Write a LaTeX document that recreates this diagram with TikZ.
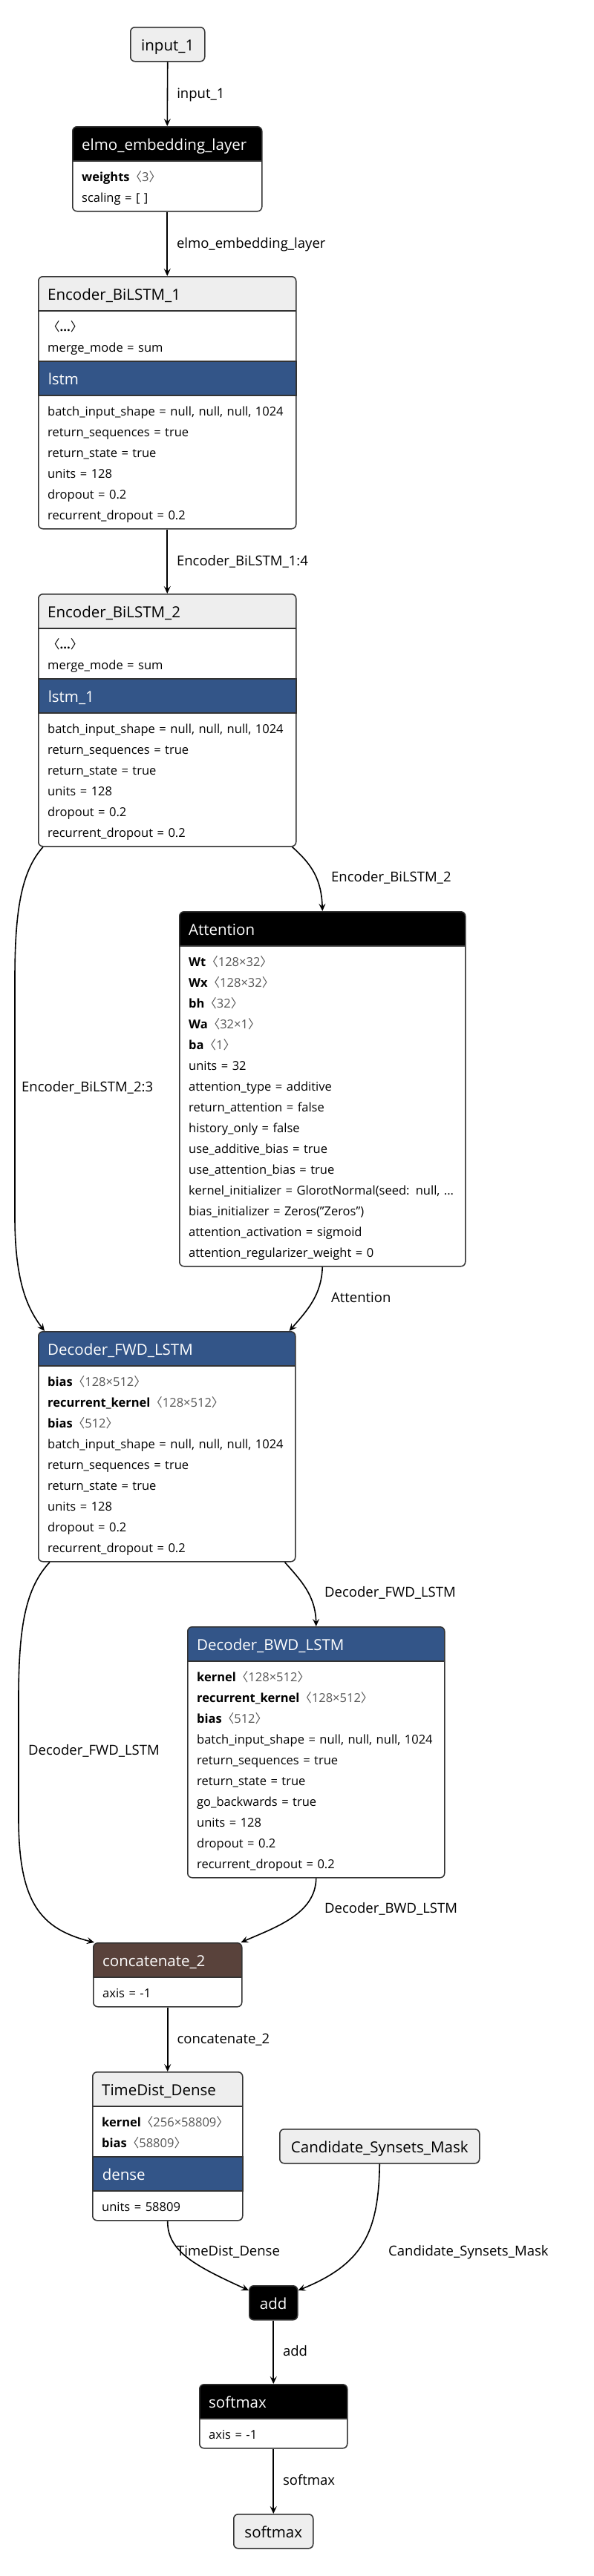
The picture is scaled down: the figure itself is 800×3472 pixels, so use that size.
\documentclass[tikz,border=0pt]{standalone}
\usepackage{fontspec}
\setmainfont{Open Sans}
\newfontfamily\cjk{Noto Sans CJK SC}
\usepackage{tikz}
\usetikzlibrary{
    arrows.meta,
    positioning
}
\definecolor{NodeGray}{HTML}{EEEEEE}
\definecolor{EdgeGray}{HTML}{333333}
\definecolor{ShapeGray}{HTML}{555555}
\definecolor{LayerBlue}{RGB}{51,85,136}
\definecolor{TensorBrown}{RGB}{89,66,59}
\newcommand{\shapeof}[1]{{\color{ShapeGray}{\cjk 〈}#1{\cjk 〉}}}

\begin{document}
\begin{tikzpicture}[
    x=1pt,
    y=-1pt,
    layerbox/.style={
        draw=EdgeGray,
        line width=1.5pt,
        rounded corners=6pt,
        fill=white,
        anchor=north west,
        inner sep=0pt
    },
    head/.style={
        path picture={
            \fill[#1, sharp corners]
                (path picture bounding box.north west)
                rectangle
                ([yshift=-46pt]path picture bounding box.north east);
            \draw[EdgeGray, line width=1.5pt]
                ([yshift=-46pt]path picture bounding box.north west)
                --
                ([yshift=-46pt]path picture bounding box.north east);
        }
    },
    headtext/.style={
        anchor=north west,
        minimum height=46pt,
        inner xsep=13pt,
        inner ysep=0pt,
        text height=18.5pt,
        text depth=0.5pt,
        font=\fontsize{20.5}{24}\selectfont
    },
    band/.style={
        headtext,
        fill=LayerBlue,
        draw=EdgeGray,
        line width=1.5pt,
        text=white,
        align=left
    },
    attrs/.style={
        anchor=north west,
        align=left,
        text width=380pt,
        inner xsep=13pt,
        inner ysep=6pt,
        font=\fontsize{16.5}{28}\selectfont,
        execute at begin node={\rule{0pt}{22.3pt}},
        execute at end node={\rule[-5.7pt]{0pt}{5.7pt}}
    },
    iobox/.style={
        draw=EdgeGray,
        line width=1.5pt,
        rounded corners=6pt,
        fill=NodeGray,
        anchor=north west,
        minimum height=46pt,
        inner xsep=13pt,
        inner ysep=0pt,
        text height=18.5pt,
        text depth=0.5pt,
        font=\fontsize{20.5}{24}\selectfont
    },
    link/.style={
        -{Stealth[length=10pt, width=9pt, inset=4pt]},
        line width=1.6pt
    },
    elabel/.style={
        anchor=west,
        inner sep=0pt,
        text height=13.4pt,
        text depth=2pt,
        font=\fontsize{18.5}{22}\selectfont
    }
]
\path[fill=white, use as bounding box] (0,0) rectangle (800,3472);
%
% input
\node[iobox, minimum width=100pt] (input) at (175,36) {input\_1};
%
% elmo_embedding_layer
\node[layerbox, head=black, minimum width=255pt, minimum height=114pt] (elmo) at (97,170) {};
\node[headtext, text=white, below right=0pt and 0pt of elmo.north west] (elmo-t) {elmo\_embedding\_layer};
\node[attrs, below right=46pt and 0pt of elmo.north west] (elmo-a) {
    \textbf{weights}\shapeof{3}\\
    scaling = [ ]
};
%
% Encoder_BiLSTM_1
\node[layerbox, head=NodeGray, minimum width=347pt, minimum height=340pt] (enc1) at (51,372) {};
\node[headtext, below right=0pt and 0pt of enc1.north west] (enc1-t) {Encoder\_BiLSTM\_1};
\node[attrs, below right=46pt and 0pt of enc1.north west] (enc1-a) {
    {\cjk 〈}\textbf{...}{\cjk 〉}\\
    merge\_mode = sum
};
\node[band, text width=321pt, below right=114pt and 0pt of enc1.north west] (enc1-b) {lstm};
\node[attrs, below right=160pt and 0pt of enc1.north west] (enc1-c) {
    batch\_input\_shape = null, null, null, 1024\\
    return\_sequences = true\\
    return\_state = true\\
    units = 128\\
    dropout = 0.2\\
    recurrent\_dropout = 0.2
};
%
% Encoder_BiLSTM_2
\node[layerbox, head=NodeGray, minimum width=347pt, minimum height=340pt] (enc2) at (51,800) {};
\node[headtext, below right=0pt and 0pt of enc2.north west] (enc2-t) {Encoder\_BiLSTM\_2};
\node[attrs, below right=46pt and 0pt of enc2.north west] (enc2-a) {
    {\cjk 〈}\textbf{...}{\cjk 〉}\\
    merge\_mode = sum
};
\node[band, text width=321pt, below right=114pt and 0pt of enc2.north west] (enc2-b) {lstm\_1};
\node[attrs, below right=160pt and 0pt of enc2.north west] (enc2-c) {
    batch\_input\_shape = null, null, null, 1024\\
    return\_sequences = true\\
    return\_state = true\\
    units = 128\\
    dropout = 0.2\\
    recurrent\_dropout = 0.2
};
%
% Attention
\node[layerbox, head=black, minimum width=385pt, minimum height=478pt] (att) at (241,1228) {};
\node[headtext, text=white, below right=0pt and 0pt of att.north west] (att-t) {Attention};
\node[attrs, below right=46pt and 0pt of att.north west] (att-a) {
    \textbf{Wt}\shapeof{128×32}\\
    \textbf{Wx}\shapeof{128×32}\\
    \textbf{bh}\shapeof{32}\\
    \textbf{Wa}\shapeof{32×1}\\
    \textbf{ba}\shapeof{1}\\
    units = 32\\
    attention\_type = additive\\
    return\_attention = false\\
    history\_only = false\\
    use\_additive\_bias = true\\
    use\_attention\_bias = true\\
    kernel\_initializer = GlorotNormal(seed: null, ...\\
    bias\_initializer = Zeros("Zeros")\\
    attention\_activation = sigmoid\\
    attention\_regularizer\_weight = 0
};
%
% Decoder_FWD_LSTM
\node[layerbox, head=LayerBlue, minimum width=346pt, minimum height=310pt] (fwd) at (51,1794) {};
\node[headtext, text=white, below right=0pt and 0pt of fwd.north west] (fwd-t) {Decoder\_FWD\_LSTM};
\node[attrs, below right=46pt and 0pt of fwd.north west] (fwd-a) {
    \textbf{bias}\shapeof{128×512}\\
    \textbf{recurrent\_kernel}\shapeof{128×512}\\
    \textbf{bias}\shapeof{512}\\
    batch\_input\_shape = null, null, null, 1024\\
    return\_sequences = true\\
    return\_state = true\\
    units = 128\\
    dropout = 0.2\\
    recurrent\_dropout = 0.2
};
%
% Decoder_BWD_LSTM
\node[layerbox, head=LayerBlue, minimum width=346pt, minimum height=338pt] (bwd) at (252,2192) {};
\node[headtext, text=white, below right=0pt and 0pt of bwd.north west] (bwd-t) {Decoder\_BWD\_LSTM};
\node[attrs, below right=46pt and 0pt of bwd.north west] (bwd-a) {
    \textbf{kernel}\shapeof{128×512}\\
    \textbf{recurrent\_kernel}\shapeof{128×512}\\
    \textbf{bias}\shapeof{512}\\
    batch\_input\_shape = null, null, null, 1024\\
    return\_sequences = true\\
    return\_state = true\\
    go\_backwards = true\\
    units = 128\\
    dropout = 0.2\\
    recurrent\_dropout = 0.2
};
%
% concatenate_2
\node[layerbox, head=TensorBrown, minimum width=200pt, minimum height=86pt] (concat) at (125,2618) {};
\node[headtext, text=white, below right=0pt and 0pt of concat.north west] (concat-t) {concatenate\_2};
\node[attrs, below right=46pt and 0pt of concat.north west] (concat-a) {axis = -1};
%
% TimeDist_Dense
\node[layerbox, head=NodeGray, minimum width=202pt, minimum height=200pt] (tdd) at (124,2792) {};
\node[headtext, below right=0pt and 0pt of tdd.north west] (tdd-t) {TimeDist\_Dense};
\node[attrs, below right=46pt and 0pt of tdd.north west] (tdd-a) {
    \textbf{kernel}\shapeof{256×58809}\\
    \textbf{bias}\shapeof{58809}
};
\node[band, text width=176pt, below right=114pt and 0pt of tdd.north west] (tdd-b) {dense};
\node[attrs, below right=160pt and 0pt of tdd.north west] (tdd-c) {units = 58809};
%
% Candidate_Synsets_Mask
\node[iobox, minimum width=269pt] (cand) at (376,2869) {Candidate\_Synsets\_Mask};
%
% add
\node[iobox, fill=black, text=white, minimum width=65pt] (add) at (335,3080) {add};
%
% softmax
\node[layerbox, head=black, minimum width=199pt, minimum height=86pt] (smax) at (268,3213) {};
\node[headtext, text=white, below right=0pt and 0pt of smax.north west] (smax-t) {softmax};
\node[attrs, below right=46pt and 0pt of smax.north west] (smax-a) {axis = -1};
%
% output
\node[iobox, minimum width=107pt] (output) at (314,3388) {softmax};
%
% connectors
\draw[link] (input.south) -- (elmo.north)
    node[elabel, midway, xshift=12pt] (input-l) {input\_1};
\draw[link] (elmo.south) -- (enc1.north)
    node[elabel, midway, xshift=12pt] (elmo-l) {elmo\_embedding\_layer};
\draw[link] (enc1.south) -- (enc2.north)
    node[elabel, midway, xshift=12pt] (enc1-l) {Encoder\_BiLSTM\_1:4};
%
\draw[link] ([xshift=-6pt]enc2.south east)
    .. controls (420,1165) and (433,1185) .. (att.north);
\node[elabel] (enc2-l1) at (446,1183) {Encoder\_BiLSTM\_2};
%
\draw[link] ([xshift=7pt]enc2.south west)
    .. controls (28,1175) and (20,1230) .. (20,1320)
    -- (20,1640)
    .. controls (20,1730) and (38,1765) .. ([xshift=9pt]fwd.north west);
\node[elabel] (enc2-l2) at (29,1466) {Encoder\_BiLSTM\_2:3};
%
\draw[link] (att.south)
    .. controls (433,1745) and (415,1765) .. ([xshift=-9pt]fwd.north east);
\node[elabel] (att-l) at (446,1750) {Attention};
%
\draw[link] ([xshift=-15pt]fwd.south east)
    .. controls (405,2130) and (425,2150) .. (bwd.north);
\node[elabel] (fwd-l1) at (437,2147) {Decoder\_FWD\_LSTM};
%
\draw[link] ([xshift=16pt]fwd.south west)
    .. controls (35,2140) and (25,2190) .. (25,2290)
    -- (25,2450)
    .. controls (25,2565) and (55,2600) .. ([xshift=2pt]concat.north west);
\node[elabel] (fwd-l2) at (38,2360) {Decoder\_FWD\_LSTM};
%
\draw[link] (bwd.south)
    .. controls (425,2580) and (370,2598) .. ([xshift=-2pt]concat.north east);
\node[elabel] (bwd-l) at (437,2573) {Decoder\_BWD\_LSTM};
%
\draw[link] (concat.south) -- (tdd.north)
    node[elabel, midway, xshift=12pt] (concat-l) {concatenate\_2};
%
\draw[link] (tdd.south)
    .. controls (225,3035) and (265,3055) .. ([yshift=-7pt]add.north west);
\node[elabel] (tdd-l) at (238,3035) {TimeDist\_Dense};
%
\draw[link] (cand.south)
    .. controls (510,3010) and (488,3052) .. ([yshift=-7pt]add.north east);
\node[elabel] (cand-l) at (523,3035) {Candidate\_Synsets\_Mask};
%
\draw[link] (add.south) -- (smax.north)
    node[elabel, midway, xshift=12pt] (add-l) {add};
\draw[link] (smax.south) -- (output.north)
    node[elabel, midway, xshift=12pt] (smax-l) {softmax};
%
\end{tikzpicture}
\end{document}
